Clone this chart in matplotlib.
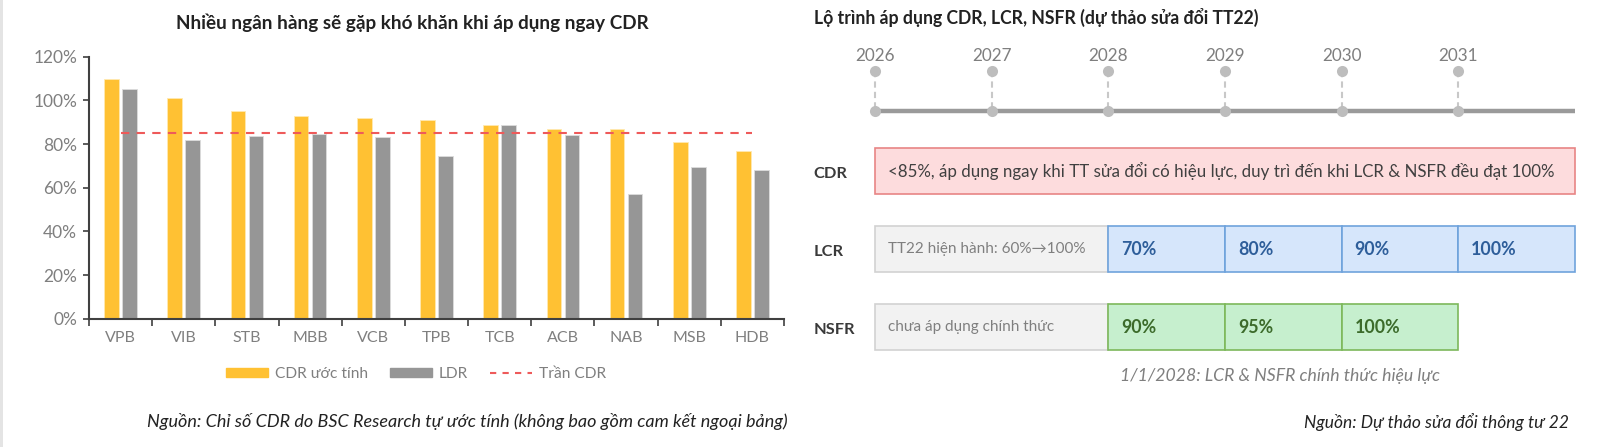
import matplotlib

matplotlib.use("Agg")
import matplotlib.pyplot as plt
import numpy as np
from matplotlib.lines import Line2D
from matplotlib.patches import Patch, Rectangle
from matplotlib.ticker import FixedLocator, PercentFormatter

# left chart data
BANKS = ["VPB", "VIB", "STB", "MBB", "VCB", "TPB", "TCB", "ACB", "NAB", "MSB", "HDB"]
CDR_EST = [1.10, 1.01, 0.95, 0.93, 0.92, 0.91, 0.885, 0.87, 0.87, 0.81, 0.77]
LDR = [1.05, 0.82, 0.835, 0.845, 0.83, 0.745, 0.887, 0.843, 0.57, 0.694, 0.68]
CDR_CAP = 0.85

# right panel data
YEARS = [2026, 2027, 2028, 2029, 2030, 2031]
TIMELINE_END = 2032
STEP_START = 2028
ROWS = ["CDR", "LCR", "NSFR"]
CDR_NOTE = "<85%, áp dụng ngay khi TT sửa đổi có hiệu lực, duy trì đến khi LCR & NSFR đều đạt 100%"
LCR_PRE = "TT22 hiện hành: 60%→100%"
LCR_STEPS = ["70%", "80%", "90%", "100%"]
NSFR_PRE = "chưa áp dụng chính thức"
NSFR_STEPS = ["90%", "95%", "100%"]

YELLOW = "#FFC133"
GREY = "#969696"
RED = "#EE5A5A"
TXT_GREY = "#7f7f7f"
DARK = "#333333"

plt.rcParams["font.family"] = ["Lato", "DejaVu Sans"]

W, H = 1602, 447
fig = plt.figure(figsize=(W / 100, H / 100), dpi=100)


def fx(px):
    return px / W


def fy(py):
    return 1 - py / H


# thin border strip on the far left
fig.add_artist(Rectangle((0, 0), fx(3), 1, transform=fig.transFigure,
                         color="#e4e4e4", lw=0))

# ---------------- left: bar chart ----------------
ax = fig.add_axes([fx(89), fy(318.7), fx(695), 262 / H])
x = np.arange(len(BANKS))
bw, off = 0.232, 0.142
ax.bar(x - off, CDR_EST, bw, color=YELLOW, edgecolor="#ffe9b0", lw=0.6)
ax.bar(x + off, LDR, bw, color=GREY, edgecolor="#dcdcdc", lw=0.6)
ax.plot([x[0], x[-1]], [CDR_CAP, CDR_CAP], color=RED, lw=1.5,
        dashes=(4, 3.5))
ax.set_xlim(-0.5, len(BANKS) - 0.5)
ax.set_ylim(0, 1.2)
ax.set_yticks(np.arange(0, 1.21, 0.2))
ax.yaxis.set_major_formatter(PercentFormatter(1.0, decimals=0))
ax.set_xticks(x)
ax.set_xticklabels(BANKS)
ax.xaxis.set_minor_locator(FixedLocator(np.arange(-0.5, len(BANKS), 1.0)))
ax.tick_params(axis="x", which="major", length=0, pad=9, labelsize=11.5)
ax.tick_params(axis="x", which="minor", length=5, width=1.2, color="#404040")
ax.tick_params(axis="y", length=4.5, width=1.2, color="#404040", pad=4,
               labelsize=12.5)
ax.tick_params(labelcolor=TXT_GREY)
for s in ["top", "right"]:
    ax.spines[s].set_visible(False)
for s in ["left", "bottom"]:
    ax.spines[s].set_color("#404040")
    ax.spines[s].set_linewidth(1.5)

fig.text(fx(412), fy(23), "Nhiều ngân hàng sẽ gặp khó khăn khi áp dụng ngay CDR",
         ha="center", va="center", fontsize=13.6, fontweight="bold", color="#222222")

handles = [Patch(color=YELLOW, label="CDR ước tính"),
           Patch(color=GREY, label="LDR"),
           Line2D([], [], color=RED, lw=1.5, dashes=(3, 3), label="Trần CDR")]
fig.legend(handles=handles, loc="center", bbox_to_anchor=(fx(416), fy(374)),
           ncol=3, frameon=False, fontsize=11.2, labelcolor=TXT_GREY,
           handlelength=2.7, handleheight=0.6, handletextpad=0.45,
           columnspacing=1.4)

fig.text(fx(788), fy(422),
         "Nguồn: Chỉ số CDR do BSC Research tự ước tính (không bao gồm cam kết ngoại bảng)",
         ha="right", va="center", fontsize=13, style="italic", color="#222222")

# ---------------- right: roadmap ----------------
rx = fig.add_axes([fx(780), 0, fx(822), 1])
rx.set_xlim(2025.186, 2032.231)
rx.set_ylim(3.535, -2.196)
rx.axis("off")

line_y, dot_y, box_h = -0.777, -1.285, 0.59
rx.plot([YEARS[0], TIMELINE_END], [line_y, line_y], color="#9a9a9a", lw=3.2,
        solid_capstyle="butt", zorder=1)
for yr in YEARS:
    rx.plot([yr, yr], [dot_y, line_y], color="#c8c8c8", lw=1.5,
            dashes=(3, 2), zorder=1)
    rx.plot([yr, yr], [dot_y, line_y], "o", color="#bdbdbd", ms=8,
            mec="none", zorder=2)
    rx.text(yr, -1.48, str(yr), ha="center", va="center", fontsize=12.3,
            color=TXT_GREY)


def box(x0, x1, row, face, edge, text="", tcolor=DARK, bold=False, size=11):
    rx.add_patch(Rectangle((x0, row - box_h / 2), x1 - x0, box_h,
                           facecolor=face, edgecolor=edge, lw=1.2))
    if text:
        rx.text(x0 + 0.11, row, text, ha="left", va="center", fontsize=size,
                color=tcolor, fontweight="bold" if bold else "normal")


for i, name in enumerate(ROWS):
    rx.text(2025.47, i + 0.03, name, ha="left", va="center", fontsize=11.8,
            fontweight="bold", color="#3a3a3a")

box(YEARS[0], TIMELINE_END, 0, "#FDDCDD", "#E88585", CDR_NOTE, "#404040", size=12.2)

box(YEARS[0], STEP_START, 1, "#F2F2F2", "#D2D2D2", LCR_PRE, TXT_GREY)
for k, lab in enumerate(LCR_STEPS):
    box(STEP_START + k, STEP_START + k + 1, 1, "#D6E6FB", "#6FA3DC", lab,
        "#2E5E9A", bold=True, size=12.8)

box(YEARS[0], STEP_START, 2, "#F2F2F2", "#D2D2D2", NSFR_PRE, TXT_GREY)
for k, lab in enumerate(NSFR_STEPS):
    box(STEP_START + k, STEP_START + k + 1, 2, "#C6EFCE", "#7DB85B", lab,
        "#3C6B2B", bold=True, size=12.8)

rx.text(2029.47, 2.62, "1/1/2028: LCR & NSFR chính thức hiệu lực",
        ha="center", va="center", fontsize=12.7, style="italic", color=TXT_GREY)

fig.text(fx(814), fy(17), "Lộ trình áp dụng CDR, LCR, NSFR (dự thảo sửa đổi TT22)",
         ha="left", va="center", fontsize=12.7, fontweight="bold", color="#222222")
fig.text(fx(1569), fy(422), "Nguồn: Dự thảo sửa đổi thông tư 22",
         ha="right", va="center", fontsize=12.5, style="italic", color="#222222")

fig.savefig("out.png", dpi=100)
